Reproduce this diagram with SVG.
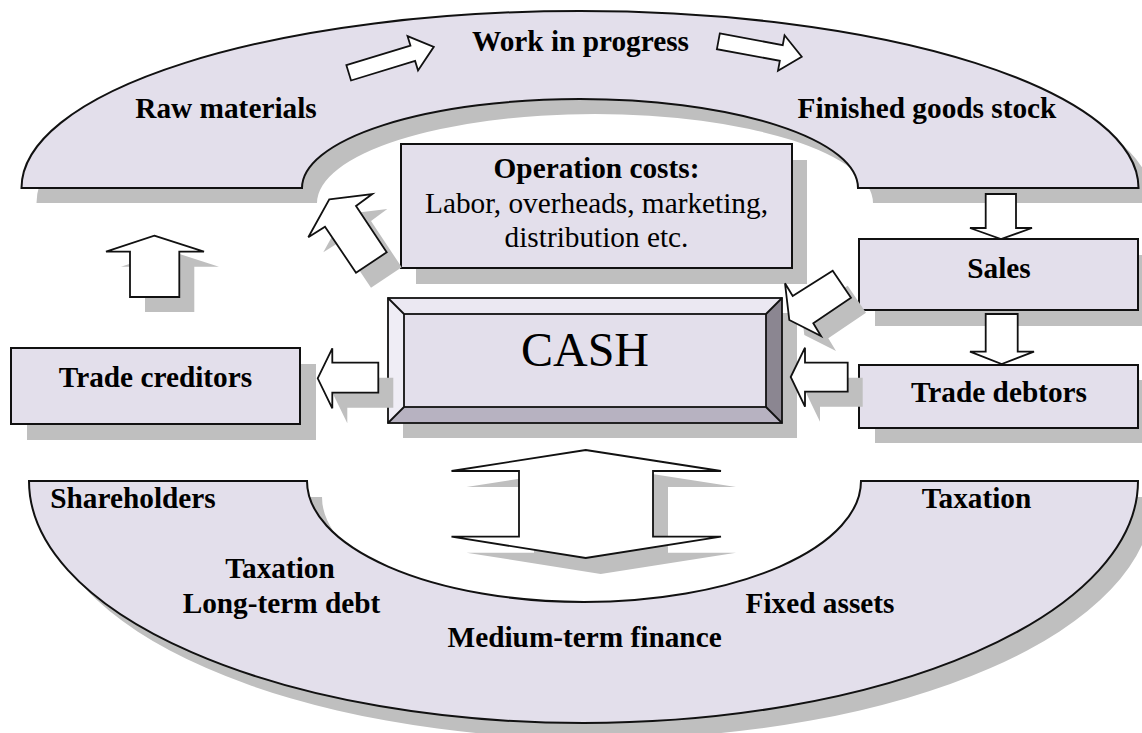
<svg xmlns="http://www.w3.org/2000/svg" xmlns:xlink="http://www.w3.org/1999/xlink" width="1142" height="733" viewBox="0 0 1142 733">
  <style>
    .panel { fill: #e3dfeb; stroke: #111; stroke-width: 2; stroke-linejoin: miter; }
    .shade { fill: #bfbfbf; stroke: none; }
    .arrow { fill: #ffffff; stroke: #111; stroke-width: 1.8; stroke-linejoin: miter; }
    .lbl { font-family: "Liberation Serif", "Times New Roman", serif; font-size: 29.3px; font-weight: bold; fill: #000; text-anchor: middle; }
    .body { font-family: "Liberation Serif", "Times New Roman", serif; font-size: 29.3px; fill: #000; text-anchor: middle; }
    .big { font-family: "Liberation Serif", "Times New Roman", serif; font-size: 48px; fill: #000; text-anchor: middle; }
  </style>
  <defs>
    <!-- block arcs -->
    <path id="arcTop" d="M21.5,188 A558.5,177 0 0 1 1138.5,188 L858,188 A278,89 0 0 0 302,188 Z"/>
    <path id="arcBottom" d="M29,481 L307,481 A277,121 0 0 0 861,481 L1138,481 A554.5,242 0 0 1 29,481 Z"/>
    <!-- boxes -->
    <rect id="boxOps" x="401" y="144" width="391" height="124"/>
    <rect id="boxSales" x="859" y="239" width="279" height="71"/>
    <rect id="boxDebtors" x="859" y="365" width="279" height="63"/>
    <rect id="boxCreditors" x="11" y="348" width="289" height="76"/>
    <rect id="boxCash" x="388" y="298" width="394" height="125"/>
    <!-- block arrows -->
    <polygon id="arUpLeft" points="154.3,235.7 204,251.7 179.3,251.7 179.3,297 130,297 130,251.7 106,251.7"/>
    <polygon id="arDiagUp" points="329.3,199.3 372.3,194 356,206 386.7,252.3 356,272.7 325,226.7 308.3,237.3"/>
    <polygon id="arDiagCash" points="785,283.3 792.7,296 832.7,270.7 851,297.7 813.3,323.3 821,336 789.3,320"/>
    <polygon id="arToCreditors" points="317.7,378.3 332.3,348.3 332.3,362.7 378.3,362.7 378.3,392.7 332.3,392.7 332.3,408.3"/>
    <polygon id="arFromDebtors" points="790.7,377 805,347.7 805,362.7 847.7,362.7 847.7,391.7 805,391.7 805,406.7"/>
    <polygon id="arDouble" points="585.7,450 721,471 653,471 653,536.7 721,536.7 585.7,558 451.5,536.7 519,536.7 519,471 451.5,471"/>
  </defs>

  <!-- production cycle -->
  <g id="production-cycle">
    <use xlink:href="#arcTop" class="shade" transform="translate(15,15)"/>
    <use xlink:href="#arcTop" class="panel"/>
    <text class="lbl" x="226" y="118">Raw materials</text>
    <text class="lbl" x="580.5" y="51">Work in progress</text>
    <text class="lbl" x="927" y="118">Finished goods stock</text>
  </g>

  <!-- finance cycle -->
  <g id="finance-cycle">
    <use xlink:href="#arcBottom" class="shade" transform="translate(15,16)"/>
    <use xlink:href="#arcBottom" class="panel"/>
    <text class="lbl" x="133" y="508">Shareholders</text>
    <text class="lbl" x="280" y="578">Taxation</text>
    <text class="lbl" x="281.5" y="613">Long-term debt</text>
    <text class="lbl" x="976.5" y="508">Taxation</text>
    <text class="lbl" x="820" y="613">Fixed assets</text>
    <text class="lbl" x="584.6" y="647">Medium-term finance</text>
  </g>

  <g id="operation-costs">
    <use xlink:href="#boxOps" class="shade" transform="translate(15,16)"/>
    <use xlink:href="#boxOps" class="panel"/>
    <text class="lbl" x="596.5" y="178">Operation costs:</text>
    <text class="body" x="596.5" y="212.5">Labor, overheads, marketing,</text>
    <text class="body" x="596.5" y="247">distribution etc.</text>
  </g>

  <g id="sales">
    <use xlink:href="#boxSales" class="shade" transform="translate(16,16)"/>
    <use xlink:href="#boxSales" class="panel"/>
    <text class="lbl" x="999" y="278">Sales</text>
  </g>

  <g id="trade-debtors">
    <use xlink:href="#boxDebtors" class="shade" transform="translate(16,15)"/>
    <use xlink:href="#boxDebtors" class="panel"/>
    <text class="lbl" x="999" y="402">Trade debtors</text>
  </g>

  <g id="trade-creditors">
    <use xlink:href="#boxCreditors" class="shade" transform="translate(16,16)"/>
    <use xlink:href="#boxCreditors" class="panel"/>
    <text class="lbl" x="155.5" y="387">Trade creditors</text>
  </g>

  <!-- bevelled cash block -->
  <g id="cash">
    <use xlink:href="#boxCash" class="shade" transform="translate(15,15)"/>
    <rect x="388" y="298" width="394" height="125" fill="#e3dfeb"/>
    <polygon points="388,298 782,298 766,314 404,314" fill="#ebe8f2"/>
    <polygon points="388,298 404,314 404,407 388,423" fill="#efedf5"/>
    <polygon points="388,423 404,407 766,407 782,423" fill="#b7b2c1"/>
    <polygon points="782,298 782,423 766,407 766,314" fill="#8b8691"/>
    <g fill="none" stroke="#111" stroke-width="1.8">
      <rect x="388" y="298" width="394" height="125"/>
      <rect x="404" y="314" width="362" height="93"/>
      <path d="M388,298 L404,314 M782,298 L766,314 M388,423 L404,407 M782,423 L766,407"/>
    </g>
    <text class="big" x="585" y="366">CASH</text>
  </g>

  <!-- flow arrows -->
  <g id="connectors">
    <!-- along the production cycle -->
    <polygon class="arrow" transform="translate(348.7,72.85) rotate(-17)" points="0,-8 67,-8 67,-18 89,0 67,18 67,8 0,8"/>
    <polygon class="arrow" transform="translate(718.35,41.3) rotate(10.5)" points="0,-8 64,-8 64,-18 84.8,0 64,18 64,8 0,8"/>
    <!-- finished goods to sales, sales to debtors -->
    <polygon class="arrow" points="985.7,194 1016,194 1016,228 1032,228 1001,239 970,228 985.7,228"/>
    <polygon class="arrow" points="985.7,314 1017.7,314 1017.7,351.7 1034,351.7 1001.7,364 970,351.7 985.7,351.7"/>

    <use xlink:href="#arUpLeft" class="shade" transform="translate(15,15)"/>
    <use xlink:href="#arUpLeft" class="arrow"/>
    <use xlink:href="#arDiagUp" class="shade" transform="translate(15,15)"/>
    <use xlink:href="#arDiagUp" class="arrow"/>
    <use xlink:href="#arDiagCash" class="shade" transform="translate(15,15)"/>
    <use xlink:href="#arDiagCash" class="arrow"/>
    <use xlink:href="#arToCreditors" class="shade" transform="translate(15,15)"/>
    <use xlink:href="#arToCreditors" class="arrow"/>
    <use xlink:href="#arFromDebtors" class="shade" transform="translate(15,15)"/>
    <use xlink:href="#arFromDebtors" class="arrow"/>
    <use xlink:href="#arDouble" class="shade" transform="translate(15,16)"/>
    <use xlink:href="#arDouble" class="arrow"/>
  </g>
</svg>
